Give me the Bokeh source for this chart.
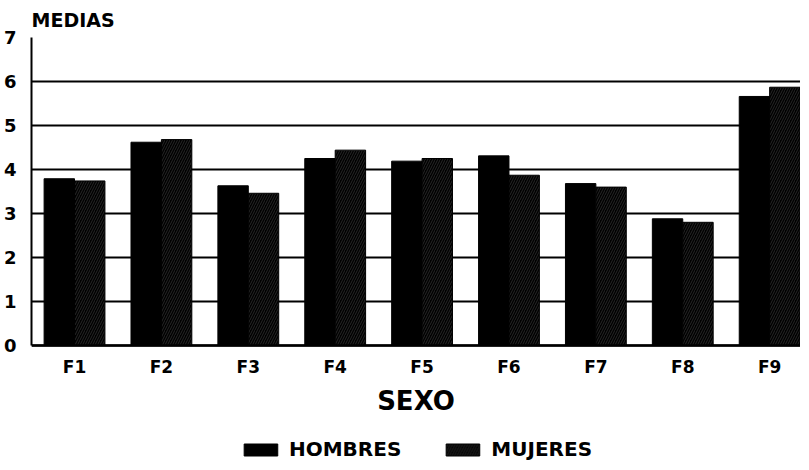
from bokeh.plotting import figure
from bokeh.models import Range1d, FixedTicker, Legend, LegendItem, ColumnDataSource
from bokeh.transform import dodge
from bokeh.embed import file_html
from bokeh.resources import INLINE

categories = ["F1", "F2", "F3", "F4", "F5", "F6", "F7", "F8", "F9"]
hombres = [3.79, 4.62, 3.63, 4.25, 4.19, 4.31, 3.68, 2.88, 5.66]
mujeres = [3.74, 4.68, 3.46, 4.44, 4.25, 3.87, 3.60, 2.80, 5.87]
y_ticks = [0, 1, 2, 3, 4, 5, 6, 7]

FONT = "DejaVu Sans"

xpos = list(range(1, len(categories) + 1))
src = ColumnDataSource(dict(x=xpos, cat=categories, h=hombres, m=mujeres))

# frame extends below zero so that the axis texts and the legend sit inside it
p = figure(frame_width=769, frame_height=424, output_backend="svg", toolbar_location=None,
           x_range=Range1d(0.505, 9.355), y_range=Range1d(-2.636, 7),
           min_border_left=24, min_border_right=0, min_border_top=0, min_border_bottom=0)

r1 = p.vbar(x=dodge("x", -0.175, range=p.x_range), top="h", width=0.35, source=src,
            fill_color="black", line_color="black")
r2 = p.vbar(x=dodge("x", 0.175, range=p.x_range), top="m", width=0.35, source=src,
            fill_color="black", line_color="black",
            hatch_pattern="/", hatch_color="white", hatch_alpha=0.15, hatch_scale=5, hatch_weight=1)

p.title.text = "MEDIAS"
p.title.text_font = FONT
p.title.text_font_size = "19px"
p.title.text_font_style = "bold"
p.title.text_color = "black"
p.title.align = "left"
p.title.standoff = 13

p.outline_line_color = None
p.background_fill_color = "white"
p.border_fill_color = "white"

p.xgrid.grid_line_color = None
p.ygrid.ticker = FixedTicker(ticks=y_ticks)
p.ygrid.grid_line_color = "black"
p.ygrid.grid_line_width = 2

xa = p.xaxis[0]
xa.fixed_location = 0
xa.ticker = FixedTicker(ticks=xpos)
xa.major_label_overrides = {i: c for i, c in zip(xpos, categories)}
xa.major_tick_line_color = None
xa.minor_tick_line_color = None
xa.axis_line_color = "black"
xa.axis_line_width = 2.5
xa.major_label_text_font = FONT
xa.major_label_text_font_style = "bold"
xa.major_label_text_font_size = "17px"
xa.major_label_text_color = "black"
xa.major_label_standoff = 5
xa.axis_label = "SEXO"
xa.axis_label_text_font = FONT
xa.axis_label_text_font_style = "bold"
xa.axis_label_text_font_size = "26px"
xa.axis_label_text_color = "black"
xa.axis_label_standoff = 6

ya = p.yaxis[0]
ya.ticker = FixedTicker(ticks=y_ticks)
ya.bounds = (0, 7)
ya.major_tick_line_color = None
ya.minor_tick_line_color = None
ya.axis_line_color = "black"
ya.axis_line_width = 2
ya.major_label_text_font = FONT
ya.major_label_text_font_style = "bold"
ya.major_label_text_font_size = "18px"
ya.major_label_text_color = "black"
ya.major_label_standoff = 9

legend = Legend(items=[LegendItem(label="HOMBRES", renderers=[r1]),
                       LegendItem(label="MUJERES", renderers=[r2])],
                orientation="horizontal", location="bottom_center",
                glyph_width=42, glyph_height=15, label_standoff=8, spacing=40,
                label_text_font=FONT, label_text_font_style="bold",
                label_text_font_size="20px", label_text_color="black",
                border_line_color=None, background_fill_alpha=0,
                padding=0, margin=0)
p.add_layout(legend, "center")

open("out.html", "w").write(file_html(p, INLINE))
